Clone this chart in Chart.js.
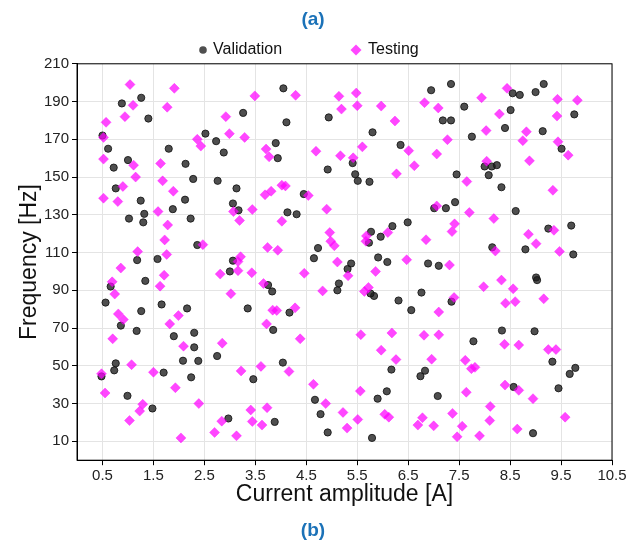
<!DOCTYPE html>
<html lang="en">
<head>
  <meta charset="UTF-8" />
  <title>Frequency vs current amplitude</title>
  <script src="https://cdn.jsdelivr.net/npm/chart.js"></script>
  <style>
    body { margin: 0; background: #fff; }
    canvas { display: block; }
  </style>
</head>
<body>
  <canvas id="scatter" width="632" height="544"></canvas>

  <script>
    // tick positions
    const xTicks = [0.5, 1.5, 2.5, 3.5, 4.5, 5.5, 6.5, 7.5, 8.5, 9.5, 10.5];
    const yTicks = [10, 30, 50, 70, 90, 110, 130, 150, 170, 190, 210];

    // validation points (current A, frequency Hz)
    const validationX = [
      0.88, 1.26, 1.40, 0.50, 0.61, 1.00, 0.72, 1.80, 2.52, 2.73, 2.88, 3.26, 2.13, 2.28, 2.76, 3.13, 0.76, 1.25, 2.12,
      1.02, 1.32, 1.30, 1.88, 2.23, 2.36, 1.18, 1.58, 1.34, 0.66, 0.56, 1.26, 1.66, 2.16, 0.86, 1.17, 2.30, 3.06, 3.17, 3.06, 3.00, 3.35,
      1.90, 2.30, 2.08, 2.38, 2.75, 0.76, 0.73, 0.48, 1.70, 2.24, 0.99, 1.48, 2.97, 3.46,
      4.05, 4.11, 4.94, 5.80, 6.95, 3.90, 3.94, 4.92, 5.41, 5.46, 5.51, 5.74, 6.35, 4.45,
      7.34, 8.55, 8.69, 9.00, 9.16, 7.60, 8.51, 9.76, 7.18, 7.34, 8.40, 9.14, 7.75, 9.51, 8.00, 8.14, 8.24, 8.08, 7.45, 8.33, 7.42,
      4.13, 4.31, 4.73, 4.65, 5.38, 5.31, 5.14, 5.11, 5.77, 5.96, 5.73, 6.19, 6.49, 5.91, 6.09, 6.89, 7.10, 5.83, 5.76, 6.31, 6.76, 6.56, 3.75, 3.83, 4.17, 3.85, 7.01,
      7.24, 8.61, 9.25, 9.70, 8.15, 8.80, 9.74, 9.01, 9.03, 7.35, 8.34, 8.98,
      4.04, 3.88, 4.67, 4.78, 4.92, 5.79, 5.90, 6.08, 6.17, 6.83, 6.74, 7.08,
      7.78, 9.33, 9.78, 9.67, 9.45, 8.57, 8.95
    ];
    const validationY = [
      189, 192, 181, 172, 165, 159, 155, 165, 173, 169, 163, 184, 157, 149, 148, 144, 144, 137.5, 138,
      128, 130.5, 126, 133, 128, 114, 106, 106.6, 95, 92, 83.5, 79, 82.5, 80.4, 71.3, 68.5, 67.5, 136, 132.4, 105.7, 100, 80.4,
      65.7, 59.8, 52.7, 52.6, 55.2, 51.3, 47.6, 44.4, 46.4, 43.9, 34.1, 27.4, 22.1, 42.9,
      197, 179, 181.6, 173.7, 196, 168, 160, 154, 157.4, 151.5, 148, 147.5, 167, 141,
      199.3, 194.4, 193.5, 195, 199.3, 187.3, 185.5, 183.2, 180, 180, 176, 174.3, 171.4, 165, 155.6, 155.6, 156.3, 151, 151.4, 144.6, 136.7,
      131.3, 130.3, 112.4, 107, 104.2, 101.3, 93.6, 90, 121, 118.4, 115.2, 124, 126, 107.4, 105, 104.2, 103, 87, 88.3, 84.6, 88.8, 79.5, 92.8, 89.4, 78.2, 69, 133.5,
      133.5, 132, 122.7, 124.3, 112.8, 111.7, 109, 96.8, 95.4, 84, 68.7, 68.3,
      51.7, 20.3, 32, 24.4, 14.7, 11.8, 32.6, 36.5, 48, 47.4, 44.5, 34,
      63, 52.2, 48.9, 45.7, 38.1, 38.8, 14.3
    ];

    // testing points (current A, frequency Hz)
    const testingX = [
      1.04, 1.91, 1.10, 1.77, 0.94, 0.57, 3.49, 2.92, 0.52, 2.36, 2.43, 2.99, 3.29, 0.52, 1.11, 1.64, 1.15, 1.68, 1.89, 0.90, 0.52, 0.80,
      1.59, 1.78, 1.72, 2.47, 1.19, 1.76, 0.86, 1.71, 0.69, 1.63, 0.74, 0.81, 0.91, 1.99, 1.82, 3.07, 3.19, 3.44, 3.21, 3.16, 3.16, 2.81, 3.43, 3.02, 3.66,
      0.70, 2.09, 2.85, 0.48, 1.07, 1.50, 0.55, 1.93, 2.39, 1.29, 1.23, 1.03, 2.04, 2.84, 2.70, 3.13, 3.22, 3.41, 3.44, 3.61, 3.63,
      4.29, 5.14, 5.48, 5.19, 5.50, 5.97, 6.24, 6.82, 7.09, 3.71, 3.77, 4.69, 5.17, 5.42, 5.60, 6.51, 6.62, 6.27, 7.06, 3.69, 3.81, 4.02, 4.09, 4.54,
      7.94, 8.44, 8.29, 9.43, 9.82, 9.42, 8.03, 8.82, 8.75, 7.27, 9.44, 9.64, 8.88, 8.04, 7.65, 9.34,
      4.90, 4.02, 4.96, 4.98, 5.05, 3.74, 3.94, 5.11, 4.46, 4.82, 5.32, 5.68, 5.67, 6.10, 5.86, 6.47, 6.85, 5.72, 5.64, 3.84, 3.92, 4.28, 3.72, 7.06, 7.10,
      7.70, 8.18, 7.41, 7.36, 8.86, 9.01, 9.36, 8.21, 9.47, 7.31, 8.33, 8.56, 7.98, 7.40, 8.41, 8.60, 9.16,
      4.38, 5.57, 6.18, 6.81, 7.10, 5.97, 6.26, 6.96, 4.16, 4.64, 5.56, 4.88, 3.73, 5.22, 5.51, 5.30, 6.04, 6.12, 6.78, 6.69, 7.00,
      8.39, 8.67, 9.25, 9.40, 7.62, 7.74, 7.81, 7.64, 8.40, 8.67, 8.95, 8.11, 7.37, 8.10, 7.56, 9.58, 8.64, 7.46, 7.90
    ];
    const testingY = [
      199, 197, 188, 187, 182, 179, 193, 182, 171, 170, 166.4, 173, 171, 159.5, 156.3, 157.2, 150, 148, 142.5, 145, 138.8, 137,
      131.7, 124.6, 116.7, 114.2, 110.5, 109, 101.8, 98, 94.5, 92.2, 88, 77.5, 74.5, 76.6, 72.2, 131.7, 127, 132.8, 107.8, 105.2, 100.4, 98.6, 99.3, 88.2, 93.6,
      64.3, 60.4, 62, 45.8, 50.6, 46.6, 35.6, 38.4, 30, 29.6, 26, 21, 11.8, 20.7, 14.7, 12.9, 47.3, 26.6, 20.5, 49.7, 18.6,
      193.3, 192.8, 194.5, 186, 187.8, 187.6, 179.7, 189.4, 186.6, 164.8, 160.7, 163.7, 161.3, 160.2, 166, 164, 156, 151.7, 162.2, 140.6, 142.5, 145.7, 145.3, 140.2,
      192, 197, 183.4, 191.2, 190.7, 182.3, 174.6, 174, 169.3, 169.8, 168.7, 161.6, 158.6, 158.4, 147.6, 143,
      133, 126.6, 120.6, 116, 113.6, 112.7, 111.2, 105, 99, 89.7, 97.7, 118.8, 116, 120.6, 100, 106.2, 116.8, 91.5, 89.4, 79.5, 79.3, 80.7, 72.2, 134.7, 78.5,
      131.2, 128, 125.2, 121.1, 119.7, 114.7, 121.8, 110.8, 110.6, 103.4, 95.4, 90.8, 91.9, 86.2, 83.2, 84, 85.5,
      64.3, 66.5, 67.4, 66.2, 66.4, 58.3, 53.3, 53.5, 47, 40.2, 36.6, 30, 27.8, 25.3, 21.6, 17, 24.3, 22.8, 22.5, 18.6, 18.2,
      61.4, 61, 58.6, 58.6, 52.9, 48.5, 49.2, 36, 39.8, 37, 32.6, 28.5, 24.8, 21, 18, 22.8, 16.5, 12.4, 12.9
    ];

    const toPoints = (xs, ys) => xs.map((x, i) => ({ x: x, y: ys[i] }));

    const FONT = "'Liberation Sans', Arial, sans-serif";
    const BLUE = "#1b72b8";
    const DARK = "rgba(30,30,30,0.78)";
    const PINK = "rgba(255,0,255,0.72)";

    // box round the plot + the legend row between title and plot
    const frameAndLegend = {
      id: "frameAndLegend",
      afterDraw(chart) {
        const a = chart.chartArea;
        const ctx = chart.ctx;
        ctx.save();
        ctx.strokeStyle = "#000";
        ctx.lineWidth = 1;
        ctx.strokeRect(a.left, a.top, a.right - a.left, a.bottom - a.top);

        const ly = 50;
        ctx.font = "16px " + FONT;
        ctx.fillStyle = "#111";
        ctx.textBaseline = "middle";
        ctx.fillText("Validation", 213, ly);
        ctx.fillText("Testing", 368, ly);

        ctx.fillStyle = DARK;
        ctx.beginPath();
        ctx.arc(203, ly, 3.8, 0, Math.PI * 2);
        ctx.fill();

        ctx.fillStyle = PINK;
        ctx.beginPath();
        ctx.moveTo(356, ly - 5.5);
        ctx.lineTo(361.5, ly);
        ctx.lineTo(356, ly + 5.5);
        ctx.lineTo(350.5, ly);
        ctx.closePath();
        ctx.fill();
        ctx.restore();
      }
    };

    new Chart(document.getElementById("scatter"), {
      type: "scatter",
      data: {
        datasets: [
          {
            label: "Validation",
            data: toPoints(validationX, validationY),
            pointStyle: "circle",
            pointRadius: 3.6,
            backgroundColor: DARK,
            borderColor: "rgba(20,20,20,0.85)",
            borderWidth: 1,
            order: 1
          },
          {
            label: "Testing",
            data: toPoints(testingX, testingY),
            pointStyle: "rectRot",
            pointRadius: 5,
            backgroundColor: PINK,
            borderColor: PINK,
            borderWidth: 0.5,
            order: 0
          }
        ]
      },
      options: {
        responsive: false,
        animation: false,
        devicePixelRatio: 1,
        layout: { padding: { left: 14, right: 20, top: 0, bottom: 2 } },
        plugins: {
          tooltip: { enabled: false },
          legend: { display: false },
          title: {
            display: true,
            text: "(a)",
            color: BLUE,
            font: { family: FONT, size: 19, weight: "bold" },
            padding: { top: 8, bottom: 33 }
          },
          subtitle: {
            display: true,
            position: "bottom",
            text: "(b)",
            color: BLUE,
            font: { family: FONT, size: 19, weight: "bold" },
            padding: { top: 8, bottom: 0 }
          }
        },
        scales: {
          x: {
            type: "linear",
            min: 0,
            max: 10.5,
            afterBuildTicks: (axis) => { axis.ticks = xTicks.map(v => ({ value: v })); },
            ticks: {
              color: "#222",
              font: { family: FONT, size: 15, lineHeight: 1 },
              padding: 3,
              maxRotation: 0,
              callback: (v) => v.toFixed(1)
            },
            grid: { color: "#e4e4e4", tickColor: "#000", tickLength: 5 },
            border: { color: "#000", width: 1 },
            title: {
              display: true,
              text: "Current amplitude [A]",
              color: "#111",
              font: { family: FONT, size: 23, lineHeight: 1 },
              padding: { top: -3, bottom: 5 }
            }
          },
          y: {
            type: "linear",
            min: 0,
            max: 210,
            afterBuildTicks: (axis) => { axis.ticks = yTicks.map(v => ({ value: v })); },
            ticks: {
              color: "#222",
              font: { family: FONT, size: 15 },
              padding: 3,
              callback: (v) => String(v)
            },
            grid: { color: "#e4e4e4", tickColor: "#000", tickLength: 5 },
            border: { color: "#000", width: 1 },
            title: {
              display: true,
              text: "Frequency [Hz]",
              color: "#111",
              font: { family: FONT, size: 23, lineHeight: 1 },
              padding: { top: 4, bottom: 0 }
            }
          }
        }
      },
      plugins: [frameAndLegend]
    });
  </script>
</body>
</html>
